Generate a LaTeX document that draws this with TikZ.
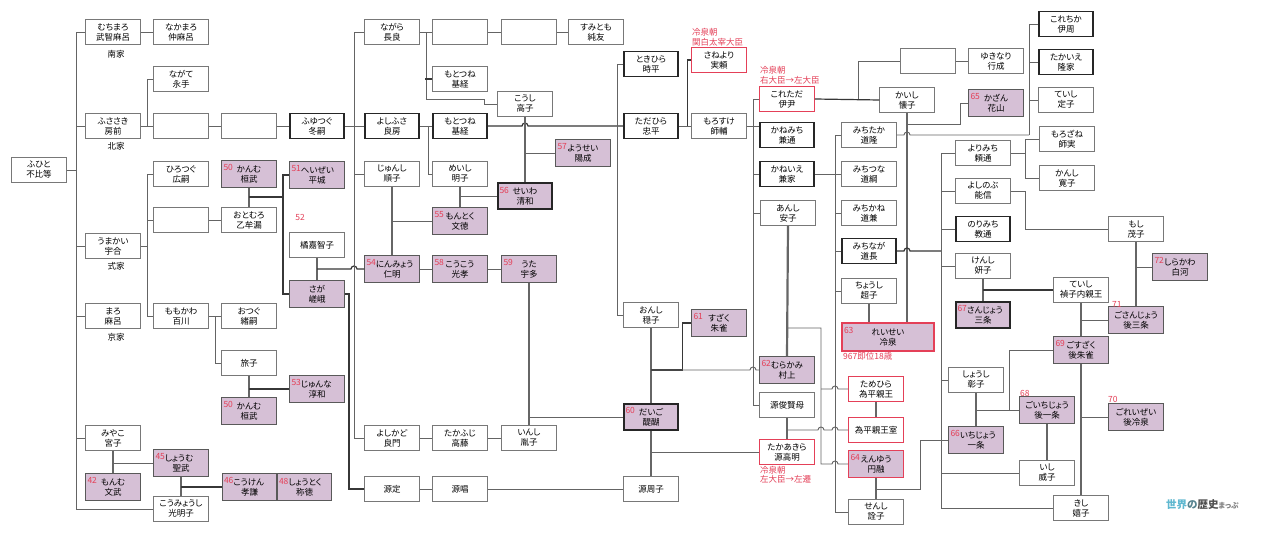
\documentclass[tikz,border=0pt]{standalone}
\usepackage{fontspec}
\setmainfont{Noto Sans CJK JP}[RawFeature=+palt]
\usetikzlibrary{calc}
\definecolor{boxgray}{RGB}{120,120,120}
\definecolor{lnc}{RGB}{100,100,100}
\definecolor{dkl}{RGB}{55,55,55}
\definecolor{purp}{RGB}{214,192,214}
\definecolor{redc}{RGB}{228,64,88}
\definecolor{logob}{RGB}{95,184,208}
\definecolor{logog}{RGB}{80,80,80}
\newcommand\K[1]{{\color{redc}#1}}
\newcommand\NO[3][51pt]{\makebox[#1][l]{\raisebox{1.5pt}{\K{#2}}}\llap{\makebox[#1][c]{#3}}}
\newcommand\NI[2]{\makebox[51pt][l]{\raisebox{1.5pt}{\K{#1}}#2}}
\newcommand\hop[2]{-- ($(#1 -| #2)+(-3,0)$) arc[start angle=180,end angle=0,radius=3pt]}
\tikzset{
  bx/.style={draw=boxgray, line width=0.9pt, fill=white, minimum width=54.5pt, minimum height=25pt, inner sep=0pt, align=center, font=\fontsize{8.5}{10}\selectfont},
  thk/.style={draw=black!85, line width=1.7pt},
  pu/.style={fill=purp, draw=black!65, line width=1pt, minimum height=26.5pt},
  rb/.style={draw=redc, line width=1.1pt},
  lk/.style={draw=lnc, line width=0.9pt},
  lkd/.style={draw=dkl, line width=1.2pt},
  mar/.style={draw=black!60, line width=2.2pt},
  rl/.style={text=redc, font=\fontsize{8.5}{9.5}\selectfont, align=left, inner sep=0pt},
  fam/.style={font=\fontsize{8.5}{10}\selectfont, inner sep=0pt},
}
\begin{document}
\begin{tikzpicture}[x=1pt,y=-1pt]
\useasboundingbox (0,0) rectangle (1280,540);
\fill[white] (0,0) rectangle (1280,540);
% column / row coordinates
\coordinate (sp) at (76,0);
\coordinate (X147) at (147,0);
\coordinate (X283) at (283,0);
\coordinate (X349) at (349,0);
\coordinate (X354) at (354,0);
\coordinate (X617) at (617,0);
\coordinate (X753) at (753,0);
\coordinate (X821) at (821,0);
\coordinate (X835) at (835,0);
\coordinate (X858) at (858,0);
\coordinate (X920) at (920,0);
\coordinate (X941) at (941,0);
\coordinate (X1009) at (1009,0);
\coordinate (X1025) at (1025,0);
\coordinate (X1029) at (1029,0);
\coordinate (Y124) at (0,124);
\coordinate (Y197) at (0,197);
\coordinate (Y328) at (0,328);
\coordinate (Y489) at (0,489);

% ---------- left part ----------
\node[bx] (fuhito) at (39,170) {ふひと\\不比等};
\node[bx] (muchimaro) at (113,32) {むちまろ\\武智麻呂};
\node[bx] (nakamaro) at (181,32) {なかまろ\\仲麻呂};
\node[bx] (nagate) at (181,79) {ながて\\永手};
\node[bx] (fusasaki) at (113,126) {ふささき\\房前};
\node[bx] (e1) at (181,126) {};
\node[bx] (e2) at (249,126) {};
\node[bx,thk] (fuyutsugu) at (317,126) {ふゆつぐ\\冬嗣};
\node[bx] (hirotsugu) at (181,174) {ひろつぐ\\広嗣};
\node[bx,pu] (kanmu1) at (249,174) {\NO{50}{かんむ}\\桓武};
\node[bx,pu] (heizei) at (317,175) {\NI{51}{へいぜい}\\平城};
\node[bx] (e3) at (181,220) {};
\node[bx] (otomuro) at (249,220) {おとむろ\\乙牟漏};
\node[bx] (kachiko) at (317,245) {橘嘉智子};
\node[bx] (umakai) at (113,246) {うまかい\\宇合};
\node[bx,pu] (saga) at (317,294) {さが\\嵯峨};
\node[bx] (maro) at (113,316) {まろ\\麻呂};
\node[bx] (momokawa) at (181,316) {ももかわ\\百川};
\node[bx] (otsugu) at (249,316) {おつぐ\\緒嗣};
\node[bx] (tabiko) at (249,363) {旅子};
\node[bx,pu] (junna) at (317,389) {\NI{53}{じゅんな}\\淳和};
\node[bx,pu] (kanmu2) at (249,411) {\NO{50}{かんむ}\\桓武};
\node[bx] (miyako) at (113,438) {みやこ\\宮子};
\node[bx,pu] (monmu) at (113,487) {\NO{42}{もんむ}\\文武};
\node[bx,pu] (shomu) at (181,463) {\NI{45}{しょうむ}\\聖武};
\node[bx,pu] (koken) at (249.5,487) {\NI{46}{こうけん}\\孝謙};
\node[bx,pu] (shotoku) at (304.5,487) {\NI{48}{しょうとく}\\称徳};
\node[bx] (komyoshi) at (181,509) {こうみょうし\\光明子};
\node[fam] (nanke) at (116,54) {南家};
\node[fam] (hokke) at (116,146) {北家};
\node[fam] (shikike) at (116,266) {式家};
\node[fam] (kyoke) at (116,337) {京家};
\node[rl] (n52) at (300,217) {52};

% ---------- middle part ----------
\node[bx] (nagara) at (392,32) {ながら\\長良};
\node[bx] (e4) at (460,32) {};
\node[bx] (e5) at (529,32) {};
\node[bx] (sumitomo) at (596,32) {すみとも\\純友};
\node[bx] (mototsune1) at (460,79) {もとつね\\基経};
\node[bx] (koshi) at (525,104) {こうし\\高子};
\node[bx,thk] (yoshifusa) at (392,126) {よしふさ\\良房};
\node[bx,thk] (mototsune2) at (460,126) {もとつね\\基経};
\node[bx,pu] (yozei) at (583,153) {\NO{57}{ようせい}\\陽成};
\node[bx] (junshi) at (392,174) {じゅんし\\順子};
\node[bx] (meishi) at (460,174) {めいし\\明子};
\node[bx,pu,thk] (seiwa) at (525,196) {\NO{56}{せいわ}\\清和};
\node[bx,pu] (montoku) at (460,221) {\NO{55}{もんとく}\\文徳};
\node[bx,pu] (ninmyo) at (392,269) {\NI{54}{にんみょう}\\仁明};
\node[bx,pu] (koko) at (460,269) {\NO{58}{こうこう}\\光孝};
\node[bx,pu] (uda) at (529,269) {\NO{59}{うた}\\宇多};
\node[bx] (yoshikado) at (392,438) {よしかど\\良門};
\node[bx] (takafuji) at (460,438) {たかふじ\\高藤};
\node[bx] (inshi) at (529,438) {いんし\\胤子};
\node[bx] (minsada) at (392,489) {源定};
\node[bx] (mintonau) at (460,489) {源唱};

% ---------- right-middle part ----------
\node[bx,thk] (tokihira) at (651,64) {ときひら\\時平};
\node[bx,rb] (saneyori) at (719,60) {さねより\\実頼};
\node[bx,thk] (tadahira) at (651,126) {ただひら\\忠平};
\node[bx] (morosuke) at (719,126) {もろすけ\\師輔};
\node[bx] (onshi) at (651,315) {おんし\\穏子};
\node[bx,pu] (suzaku) at (719,323) {\NO{61}{すざく}\\朱雀};
\node[bx,pu,thk] (daigo) at (651,417) {\NO{60}{だいご}\\醍醐};
\node[bx] (minshuushi) at (651,489) {源周子};
\node[bx,rb] (koretada) at (787,99) {これただ\\伊尹};
\node[bx,thk] (kanemichi) at (787,135) {かねみち\\兼通};
\node[bx,thk] (kaneie) at (787,174) {かねいえ\\兼家};
\node[bx] (anshi) at (788,213) {あんし\\安子};
\node[bx,pu] (murakami) at (787,370) {\NO{62}{むらかみ}\\村上};
\node[bx] (toshikatahaha) at (787,405) {源俊賢母};
\node[bx,rb] (takaakira) at (787,452) {たかあきら\\源高明};
\node[bx] (michitaka) at (869,135) {みちたか\\道隆};
\node[bx] (michitsuna) at (869,174) {みちつな\\道綱};
\node[bx] (michikane) at (869,213) {みちかね\\道兼};
\node[bx,thk] (michinaga) at (869,251) {みちなが\\道長};
\node[bx] (choushi) at (869,291) {ちょうし\\超子};
\node[bx,pu,rb,minimum width=92pt,minimum height=28pt] (reizei) at (888,337) {\NO[88pt]{63}{れいせい}\\冷泉};
\node[bx,rb] (tamehira) at (876,389) {ためひら\\為平親王};
\node[bx,rb] (tamehirashitsu) at (876,430) {為平親王室};
\node[bx,pu,rb] (enyu) at (876,464) {\NO{64}{えんゆう}\\円融};
\node[bx] (senshi) at (876,512) {せんし\\詮子};
\node[rl,anchor=south west] (lbsaneyori) at (692,46) {冷泉朝\\関白太宰大臣};
\node[rl,anchor=south west] (lbkoretada) at (760,84) {冷泉朝\\右大臣→左大臣};
\node[rl,anchor=north west] (lbtakaakira) at (760,466) {冷泉朝\\左大臣→左遷};
\node[rl,anchor=north west] (lbreizei) at (843,352) {967即位18歳};

% ---------- right part ----------
\node[bx] (kaishi) at (907,100) {かいし\\懐子};
\node[bx] (e6) at (928,61) {};
\node[bx] (yukinari) at (996,61) {ゆきなり\\行成};
\node[bx,pu] (kazan) at (996,103) {\NO{65}{かざん}\\花山};
\node[bx,thk] (korechika) at (1066,24) {これちか\\伊周};
\node[bx,thk] (takaie) at (1066,62) {たかいえ\\隆家};
\node[bx] (teishi) at (1066,100) {ていし\\定子};
\node[bx] (yorimichi) at (983,153) {よりみち\\頼通};
\node[bx] (morozane) at (1067,139) {もろざね\\師実};
\node[bx] (kanshi) at (1067,178) {かんし\\寛子};
\node[bx] (yoshinobu) at (983,191) {よしのぶ\\能信};
\node[bx,thk] (norimichi) at (983,229) {のりみち\\教通};
\node[bx] (kenshi) at (983,266) {けんし\\妍子};
\node[bx] (moshi) at (1136,229) {もし\\茂子};
\node[bx,pu] (shirakawa) at (1180,267) {\NO{72}{しらかわ}\\白河};
\node[bx] (teishi2) at (1081,290) {ていし\\禎子内親王};
\node[bx,pu,thk] (sanjo) at (983,315) {\NI{67}{さんじょう}\\三条};
\node[bx,pu] (gosanjo) at (1136,320) {ごさんじょう\\後三条};
\node[bx,pu] (gosuzaku) at (1081,350) {\NO{69}{ごすざく}\\後朱雀};
\node[bx] (shoshi) at (976,380) {しょうし\\彰子};
\node[bx,pu] (goichijo) at (1047,410) {ごいちじょう\\後一条};
\node[bx,pu] (goreizei) at (1136,417) {ごれいぜい\\後冷泉};
\node[bx,pu] (ichijo) at (976,440) {\NI{66}{いちじょう}\\一条};
\node[bx] (ishi) at (1047,473) {いし\\威子};
\node[bx] (kishi) at (1081,508) {きし\\嬉子};
\node[rl,anchor=south west] (n71) at (1112,308) {71};
\node[rl,anchor=south west] (n68) at (1020,397) {68};
\node[rl,anchor=south west] (n70) at (1108,403) {70};
\node[anchor=west,inner sep=0pt] (logo) at (1166,505) {\fontsize{10.5}{11}\selectfont\bfseries\color{logob}世界\color{logob!50!logog}の\color{logog}歴史\fontsize{7.5}{8}\selectfont\color{black!50}まっぷ};

% ---------- connectors: left ----------
\draw[lk] (muchimaro.west) -- (muchimaro.west -| sp) |- (komyoshi.west);
\draw[lk] (fuhito.east) -- (fuhito.east -| sp);
\foreach \n in {fusasaki,umakai,maro,miyako} \draw[lk] (\n.west -| sp) -- (\n.west);
\draw[lk] (muchimaro.east) -- (nakamaro.west);
\draw[lk] (fusasaki.east) -- (e1.west) (e1.east) -- (e2.west) (e2.east) -- (fuyutsugu.west);
\draw[lk] (fusasaki.east) ++(7,0) |- (nagate.west);
\draw[lk] (hirotsugu.west) -- (hirotsugu.west -| X147) |- (momokawa.west);
\draw[lk] (umakai.east) -- (umakai.east -| X147);
\draw[lk] (e3.west) -- (e3.west -| X147);
\draw[lk] (e3.east) -- (otomuro.west);
\draw[lk] (momokawa.east) -- (otsugu.west);
\draw[lk] (momokawa.east) ++(7,0) |- (tabiko.west);
\draw[mar] (tabiko.south) -- (kanmu2.north);
\draw[lkd] (tabiko.south |- junna.west) -- (junna.west);
\draw[mar] (kanmu1.south) -- (otomuro.north);
\draw[lkd] (kanmu1.south |- Y197) -- (Y197 -| X283);
\draw[lkd] (heizei.west) -- (heizei.west -| X283) |- (saga.west);
\draw[mar] (kachiko.south) -- (saga.north);
\draw[lkd] (kachiko.south |- ninmyo.west) \hop{ninmyo.west}{X354} -- (ninmyo.west);
\draw[mar] (miyako.south) -- (monmu.north);
\draw[lk] (miyako.south |- shomu.west) -- (shomu.west);
\draw[mar] (shomu.south) -- (komyoshi.north);
\draw[lkd] (shomu.south |- koken.west) -- (koken.west);

% ---------- connectors: middle ----------
\draw[lk] (fuyutsugu.east) -- (yoshifusa.west);
\draw[lk] (nagara.west) -- (nagara.west -| X354) |- (yoshikado.west);
\draw[lk] (junshi.west -| X354) -- (junshi.west);
\draw[lkd] (saga.east) -- (saga.east -| X349) |- (minsada.west);
\draw[lk] (minsada.east) -- (mintonau.west);
\draw[lk] (mintonau.east) -- (minshuushi.west);
\draw[lk] (nagara.east) -- (e4.west) (e4.east) -- (e5.west) (e5.east) -- (sumitomo.west);
\draw[lk] (nagara.east) -- ++(7,0) -- ++(0,67) -- ++(58,0) |- (koshi.west);
\draw[lkd] (mototsune1.west) -- ++(-7,0);
\draw[lk] (yoshifusa.east) -- (mototsune2.west);
\draw[lk] (yoshifusa.east) ++(8,0) |- (meishi.west);
\draw[lkd] (mototsune2.east) \hop{mototsune2.east}{koshi.south} -- (tadahira.west);
\draw[mar] (koshi.south) -- (seiwa.north);
\draw[lk] (koshi.south |- yozei.west) -- (yozei.west);
\draw[mar] (meishi.south) -- (montoku.north);
\draw[lk] (meishi.south |- seiwa.west) -- (seiwa.west);
\draw[mar] (junshi.south) -- (ninmyo.north);
\draw[lk] (junshi.south |- montoku.west) -- (montoku.west);
\draw[lk] (ninmyo.east) -- (koko.west) (koko.east) -- (uda.west);
\draw[mar] (uda.south) -- (inshi.north);
\draw[lk] (uda.south |- daigo.west) -- (daigo.west);
\draw[lk] (yoshikado.east) -- (takafuji.west) (takafuji.east) -- (inshi.west);

% ---------- connectors: right-middle ----------
\draw[lk] (tokihira.west) -- (tokihira.west -| X617) |- (onshi.west);
\draw[lk] (tadahira.east) -- (morosuke.west);
\draw[lkd] (tadahira.east) ++(8,0) |- (saneyori.west);
\draw[lk] (morosuke.east) -- (morosuke.east -| kanemichi.west);
\draw[lk] (koretada.west) -- (koretada.west -| X753) |- (toshikatahaha.west);
\foreach \n in {kaneie,anshi} \draw[lk] (\n.west -| X753) -- (\n.west);
\draw[mar] (onshi.south) -- (daigo.north);
\draw[mar] (daigo.south) -- (minshuushi.north);
\draw[lkd] (onshi.south |- murakami.west) -| ($(suzaku.west)+(-9,0)$) -- (suzaku.west);
\draw[lk] (onshi.south |- murakami.west) \hop{murakami.west}{X753} -- (murakami.west);
\draw[lk] (daigo.south |- takaakira.west) -- (takaakira.west);
\draw[mar] (anshi.south) -- (murakami.north);
\draw[lk] (anshi.south |- Y328) -| (enyu.west -| X821) \hop{enyu.west}{X835} -- (enyu.west);
\draw[lk] (tamehira.west -| X821) \hop{tamehira.west}{X835} -- (tamehira.west);
\draw[mar] (toshikatahaha.south) -- (takaakira.north);
\draw[lk] (toshikatahaha.south |- tamehirashitsu.west) \hop{tamehirashitsu.west}{X821} \hop{tamehirashitsu.west}{X835} -- (tamehirashitsu.west);
\draw[mar] (tamehira.south) -- (tamehirashitsu.north);
\draw[mar] (enyu.south) -- (senshi.north);
\draw[lk] (enyu.south |- Y489) -| (ichijo.west -| X920) -- (ichijo.west);
\draw[lk] (kaneie.east) -- (kaneie.east -| X835);
\draw[lk] (michitaka.west) -- (michitaka.west -| X835) |- (senshi.west);
\foreach \n in {michitsuna,michikane,michinaga,choushi} \draw[lk] (\n.west -| X835) -- (\n.west);
\draw[mar] (choushi.south) -- (choushi.south |- reizei.north);
\draw[mar] (kaishi.south) -- (kaishi.south |- reizei.north);

% ---------- connectors: right ----------
\draw[lkd] (koretada.east) -- (kaishi.west);
\draw[lk] (koretada.east -| X858) |- (e6.west);
\draw[lk] (e6.east) -- (yukinari.west);
\draw[lk] (kaishi.south |- Y124) -| ($(kazan.west)+(-8,0)$) -- (kazan.west);
\draw[lk] (michitaka.east) \hop{michitaka.east}{kaishi.south} -- (michitaka.east -| X1029);
\draw[lk] (korechika.west) -- (korechika.west -| X1029) -- (michitaka.east -| X1029);
\foreach \n in {takaie,teishi} \draw[lk] (\n.west -| X1029) -- (\n.west);
\draw[lkd] (michinaga.east) \hop{michinaga.east}{kaishi.south} -- (michinaga.east -| X941);
\draw[lk] (yorimichi.west) -- (yorimichi.west -| X941) |- (kishi.west);
\foreach \n in {yoshinobu,norimichi,kenshi,shoshi,ishi} \draw[lk] (\n.west -| X941) -- (\n.west);
\draw[lk] (yorimichi.east) -- (yorimichi.east -| X1025);
\draw[lk] (morozane.west) -- (morozane.west -| X1025) |- (kanshi.west);
\draw[lk] (yoshinobu.east) -- (yoshinobu.east -| X1025) |- (moshi.west);
\draw[mar] (moshi.south) -- (moshi.south |- gosanjo.north);
\draw[lk] (moshi.south |- shirakawa.west) -- (shirakawa.west);
\draw[mar] (kenshi.south) -- (sanjo.north);
\draw[lkd] (kenshi.south |- teishi2.west) -- (teishi2.west);
\draw[mar] (teishi2.south) -- (gosuzaku.north);
\draw[mar] (gosuzaku.south) -- (kishi.north);
\draw[lk] (teishi2.south |- gosanjo.west) -- (gosanjo.west);
\draw[lk] (gosuzaku.south |- goreizei.west) -- (goreizei.west);
\draw[lk] (gosuzaku.west) -| (goichijo.west -| X1009);
\draw[mar] (shoshi.south) -- (ichijo.north);
\draw[lk] (shoshi.south |- goichijo.west) -- (goichijo.west);
\draw[mar] (goichijo.south) -- (ishi.north);
\end{tikzpicture}
\end{document}
